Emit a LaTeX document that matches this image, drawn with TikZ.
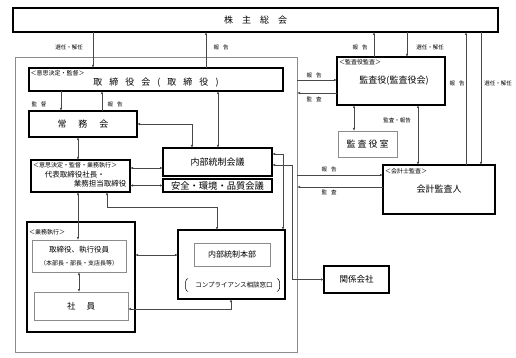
\documentclass[tikz,border=0pt]{standalone}
\usepackage{fontspec}
\setmainfont{Noto Sans CJK JP}
\usetikzlibrary{arrows.meta}
\definecolor{rim}{HTML}{8C8C8C}
\definecolor{wire}{HTML}{484848}
\newcommand\jfs[1]{\fontsize{#1}{#1}\selectfont}
\newcommand\jgap[1]{\hspace{#1pt}}

\begin{document}
\begin{tikzpicture}[x=1pt,y=-1pt,
  box/.style={draw,line width=1.2pt,inner sep=0pt,outer sep=0pt},
  pale/.style={draw=rim,line width=0.8pt,inner sep=0pt,outer sep=0pt},
  tag/.style={anchor=north west,font=\jfs{6},inner sep=0pt},
  lbl/.style={font=\jfs{5.5},inner sep=0pt},
  link/.style={draw=wire,line width=0.6pt},
  >={Latex[length=3pt,width=2.4pt]}]
  \useasboundingbox (0,0) rectangle (516,358);
  % shareholders
  \node[box,minimum width=485pt,minimum height=24pt,font=\jfs{9}] (share) at (255.5,20) {株\quad 主\quad 総\quad 会};
  % company frame
  \node[pale,minimum width=282pt,minimum height=295pt] (frame) at (156,204.5) {};
  \node[box,minimum width=254pt,minimum height=23pt] (board) at (156,79.5) {};
  \node[tag] (boardtag) at ([shift={(1.5,2)}]board.north west) {＜意思決定・監督＞};
  \node[font=\jfs{9},inner sep=0pt] (boardtxt) at (156,83) {取\jgap{7}締\jgap{7}役\jgap{7}会\jgap{7}(\jgap{7}取\jgap{7}締\jgap{7}役\jgap{7})};
  \node[box,minimum width=108pt,minimum height=26pt,font=\jfs{9}] (jomu) at (83,124) {常\jgap{12}務\jgap{12}会};
  \node[box,minimum width=99pt,minimum height=32pt] (ceo) at (80.5,176) {};
  \node[tag] (ceotag) at ([shift={(2,2)}]ceo.north west) {＜意思決定・監督・業務執行＞};
  \node[font=\jfs{7.5},inner sep=0pt,align=left] (ceotxt) at (85.5,179.5) {代表取締役社長・\\[1.5pt]\hspace*{29pt}業務担当取締役};
  \node[box,minimum width=109pt,minimum height=28pt,font=\jfs{9}] (icm) at (217.5,162) {内部統制会議};
  \node[box,minimum width=109pt,minimum height=13pt,font=\jfs{9.3}] (safety) at (217.5,185.5) {安全・環境・品質会議};
  % business execution
  \node[box,minimum width=108pt,minimum height=110pt] (exec) at (81,277) {};
  \node[tag] (exectag) at ([shift={(2,7)}]exec.north west) {＜業務執行＞};
  \node[pale,minimum width=94pt,minimum height=32pt,align=center] (officers) at (79,256) {{\jfs{7.5}取締役、執行役員}\\[1pt]{\jfs{6}（本部長・部長・支店長等）}};
  \node[pale,minimum width=94pt,minimum height=28pt,font=\jfs{8.5}] (staff) at (81,306) {社\jgap{11}員};
  % internal control
  \node[box,minimum width=107pt,minimum height=69pt] (ich) at (231.5,264.5) {};
  \node[pale,minimum width=76pt,minimum height=23pt,font=\jfs{8}] (ichin) at (232,254.5) {内部統制本部};
  \node[font=\jfs{6.5},inner sep=0pt] (desk) at (234,285) {コンプライアンス相談窓口};
  \draw[line width=0.5pt,rounded corners=1.5pt] (188,278.5) -- (185.5,280) -- (185.5,290) -- (188,291.5);
  \draw[line width=0.5pt,rounded corners=1.5pt] (277,278.5) -- (279.5,280) -- (279.5,290) -- (277,291.5);
  \node[box,minimum width=65pt,minimum height=27pt,font=\jfs{8.5}] (affil) at (356.5,279.5) {関係会社};
  % auditors
  \node[box,minimum width=108pt,minimum height=48pt,font=\jfs{9}] (auditor) at (391,81) {\jgap{6}監査役(監査役会)};
  \node[tag] (audtag) at ([shift={(2,2)}]auditor.north west) {＜監査役監査＞};
  \node[pale,minimum width=59pt,minimum height=26pt,font=\jfs{9}] (audroom) at (367.5,144) {監\jgap{2}査\jgap{2}役\jgap{2}室};
  \node[box,minimum width=112pt,minimum height=49pt,font=\jfs{9}] (cpa) at (439,189.5) {会計監査人};
  \node[tag] (cpatag) at ([shift={(2,3)}]cpa.north west) {＜会計士監査＞};
  % connectors
  \draw[link,->] (share.south -| 93,0) -- (board.north -| 93,0);
  \draw[link,->] (board.north -| 206,0) -- (share.south -| 206,0);
  \draw[link,->] (board.south -| 61,0) -- (jomu.north -| 61,0);
  \draw[link,->] (jomu.north -| 102,0) -- (board.south -| 102,0);
  \draw[link,<->] (board.south -| 218,0) -- (icm.north -| 218,0);
  \draw[link,<->] (jomu.east) -| (icm.north -| 192,0);
  \draw[link,<->] (jomu.south -| 78,0) -- (ceo.north -| 78,0);
  \draw[link,<->] (ceo.east |- 0,168) -- (icm.west |- 0,168);
  \draw[link,<->] (ceo.east |- safety.west) -- (safety.west);
  \draw[link,<->] (ceo.south -| 107,0) -- (107,207) -| (ich.north -| 217,0);
  \draw[link,<->] (ceo.south -| 78,0) -- (officers.north -| 78,0);
  \draw[link,<->] (officers.south -| 79,0) -- (staff.north -| 79,0);
  \draw[link,<->] (exec.east |- 0,255) -- (ich.west |- 0,255);
  \draw[link,<->] (staff.east |- 0,309) -| (ich.south -| 231,0);
  \draw[link,<->] (icm.east |- 0,154) -| (ich.north -| 283,0);
  \draw[link,<->] (icm.east |- 0,165) -- (292,165) |- (affil.west);
  \draw[link,->] (frame.east |- 0,80) -- (auditor.west |- 0,80);
  \draw[link,->] (auditor.west |- 0,93) -- (frame.east |- 0,93);
  \draw[link,->] (frame.east |- 0,175) -- (cpa.west |- 0,175);
  \draw[link,->] (cpa.west |- 0,187) -- (frame.east |- 0,187);
  \draw[link,->] (auditor.north -| 374,0) -- (share.south -| 374,0);
  \draw[link,->] (share.south -| 407,0) -- (auditor.north -| 407,0);
  \draw[link,<->] (auditor.south -| 354,0) -- (audroom.north -| 354,0);
  \draw[link,<->] (auditor.south -| 418,0) -- (cpa.north -| 418,0);
  \draw[link,->] (cpa.north -| 466,0) -- (share.south -| 466,0);
  \draw[link,->] (share.south -| 481,0) -- (cpa.north -| 481,0);
  % labels
  \foreach \x/\y/\t [count=\i] in {69/47/選任・解任, 221/47/報\jgap{4}告, 39/104/監\jgap{4}督, 115/104/報\jgap{4}告,
      360/47/報\jgap{4}告, 430/47/選任・解任, 314/75/報\jgap{4}告, 314/99/監\jgap{4}査, 397/120/監査・報告,
      329/169/報\jgap{4}告, 329/192/監\jgap{4}査, 457/83/報\jgap{4}告, 498/83/選任・解任}
    \node[lbl] (lbl\i) at (\x,\y) {\t};
\end{tikzpicture}
\end{document}
